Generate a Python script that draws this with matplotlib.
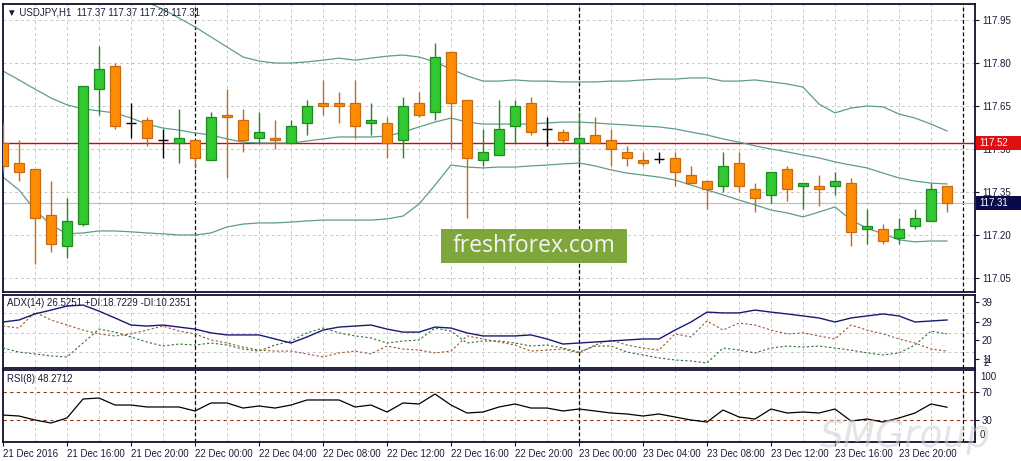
import matplotlib
matplotlib.use('Agg')
import matplotlib.pyplot as plt
from matplotlib.patches import Rectangle
import matplotlib.transforms as mtransforms

plt.rcParams['font.family'] = ['Liberation Sans', 'DejaVu Sans']

# ---------------- data ----------------
opens = [117.52, 117.45, 117.43, 117.27, 117.16, 117.24, 117.71, 117.79, 117.59, 117.60,
         117.53, 117.52, 117.53, 117.46, 117.62, 117.60, 117.54, 117.54, 117.52, 117.59,
         117.66, 117.66, 117.66, 117.59, 117.59, 117.53, 117.66, 117.63, 117.84, 117.67,
         117.46, 117.48, 117.58, 117.66, 117.57, 117.56, 117.52, 117.55, 117.53, 117.49,
         117.46, 117.465, 117.47, 117.41, 117.39, 117.37, 117.45, 117.36, 117.34, 117.43,
         117.37, 117.37, 117.37, 117.38, 117.22, 117.22, 117.19, 117.23, 117.25, 117.37]
highs = [117.59, 117.53, 117.43, 117.39, 117.33, 117.72, 117.86, 117.80, 117.66, 117.61,
         117.57, 117.64, 117.53, 117.63, 117.71, 117.64, 117.63, 117.60, 117.60, 117.67,
         117.74, 117.70, 117.74, 117.66, 117.61, 117.68, 117.70, 117.87, 117.84, 117.67,
         117.57, 117.67, 117.67, 117.68, 117.61, 117.57, 117.63, 117.61, 117.57, 117.51,
         117.49, 117.49, 117.49, 117.44, 117.39, 117.49, 117.49, 117.38, 117.42, 117.44,
         117.38, 117.41, 117.42, 117.40, 117.29, 117.24, 117.26, 117.29, 117.38, 117.37]
lows = [117.42, 117.39, 117.10, 117.14, 117.12, 117.23, 117.62, 117.57, 117.54, 117.51,
        117.47, 117.45, 117.44, 117.46, 117.40, 117.49, 117.52, 117.50, 117.52, 117.55,
        117.62, 117.59, 117.54, 117.55, 117.47, 117.47, 117.61, 117.60, 117.50, 117.26,
        117.44, 117.48, 117.52, 117.55, 117.51, 117.52, 117.45, 117.52, 117.44, 117.44,
        117.44, 117.45, 117.37, 117.38, 117.29, 117.35, 117.35, 117.28, 117.31, 117.32,
        117.29, 117.30, 117.34, 117.16, 117.17, 117.17, 117.17, 117.22, 117.25, 117.28]
closes = [117.44, 117.42, 117.26, 117.17, 117.25, 117.72, 117.78, 117.58, 117.59, 117.54,
          117.53, 117.54, 117.47, 117.61, 117.61, 117.53, 117.56, 117.53, 117.58, 117.65,
          117.65, 117.65, 117.58, 117.60, 117.52, 117.65, 117.62, 117.82, 117.66, 117.47,
          117.49, 117.57, 117.65, 117.56, 117.57, 117.53, 117.54, 117.52, 117.50, 117.47,
          117.45, 117.465, 117.42, 117.38, 117.36, 117.44, 117.37, 117.33, 117.42, 117.36,
          117.38, 117.36, 117.39, 117.21, 117.23, 117.18, 117.22, 117.26, 117.36, 117.31]

bb_upper = [118.16, 118.15, 118.14, 118.13, 118.12, 118.10, 118.08, 118.06, 118.035, 118.012,
            117.988, 117.957, 117.926, 117.891, 117.856, 117.821, 117.807, 117.800, 117.800, 117.804,
            117.810, 117.817, 117.810, 117.817, 117.824, 117.828, 117.821, 117.804, 117.779, 117.755,
            117.737, 117.737, 117.741, 117.737, 117.737, 117.734, 117.734, 117.734, 117.737, 117.737,
            117.741, 117.744, 117.744, 117.748, 117.748, 117.737, 117.737, 117.741, 117.734, 117.727,
            117.716, 117.657, 117.626, 117.643, 117.650, 117.647, 117.622, 117.608, 117.587, 117.563]
bb_middle = [117.772, 117.741, 117.709, 117.678, 117.654, 117.640, 117.633, 117.626, 117.608, 117.587,
             117.573, 117.566, 117.556, 117.549, 117.535, 117.524, 117.521, 117.521, 117.521, 117.528,
             117.535, 117.542, 117.542, 117.542, 117.545, 117.559, 117.577, 117.594, 117.608, 117.594,
             117.587, 117.587, 117.587, 117.587, 117.591, 117.594, 117.594, 117.591, 117.587, 117.584,
             117.580, 117.577, 117.570, 117.559, 117.549, 117.535, 117.524, 117.511, 117.500, 117.490,
             117.479, 117.469, 117.455, 117.444, 117.434, 117.416, 117.399, 117.388, 117.381, 117.378]
bb_lower = [117.402, 117.357, 117.287, 117.235, 117.204, 117.207, 117.214, 117.214, 117.211, 117.207,
            117.204, 117.200, 117.200, 117.207, 117.228, 117.238, 117.242, 117.242, 117.245, 117.249,
            117.252, 117.252, 117.252, 117.252, 117.256, 117.266, 117.308, 117.374, 117.444, 117.437,
            117.434, 117.437, 117.437, 117.441, 117.444, 117.448, 117.451, 117.441, 117.427, 117.416,
            117.409, 117.402, 117.392, 117.374, 117.357, 117.340, 117.322, 117.305, 117.287, 117.277,
            117.263, 117.280, 117.298, 117.252, 117.224, 117.204, 117.183, 117.176, 117.179, 117.179]

adx_main = [29.1, 30.1, 33.1, 35.0, 37.0, 37.5, 34.5, 31.1, 27.6, 27.1,
            27.6, 26.6, 25.6, 23.7, 22.7, 22.7, 22.7, 20.7, 18.7, 21.7,
            25.1, 26.6, 27.1, 27.6, 25.6, 24.1, 24.1, 26.6, 26.1, 23.7,
            22.2, 22.2, 22.2, 22.7, 20.7, 18.2, 18.7, 19.2, 19.7, 20.2,
            20.7, 20.7, 25.1, 29.1, 34.0, 33.6, 33.6, 35.0, 34.0, 33.1,
            32.1, 31.1, 29.1, 31.1, 32.1, 33.1, 32.1, 29.1, 29.6, 30.1]
adx_plus_di = [16.2, 14.2, 13.3, 12.3, 11.8, 18.7, 25.6, 24.1, 21.7, 19.2,
               17.2, 18.2, 17.7, 18.7, 17.7, 15.7, 14.7, 17.7, 19.7, 23.7,
               26.1, 23.7, 22.2, 21.2, 18.7, 19.7, 20.2, 26.1, 24.6, 18.7,
               19.7, 19.7, 18.7, 17.2, 17.7, 16.2, 14.2, 17.2, 17.2, 14.2,
               12.8, 11.3, 10.3, 9.8, 8.8, 16.2, 15.2, 13.8, 16.2, 17.2,
               16.7, 17.2, 16.2, 15.2, 13.8, 12.8, 13.8, 17.7, 24.6, 23.2]
adx_minus_di = [27.1, 26.1, 34.0, 30.1, 27.6, 25.1, 23.2, 22.2, 23.2, 25.1,
                27.1, 24.6, 23.2, 20.2, 18.7, 16.7, 15.2, 14.7, 14.7, 13.3,
                11.8, 13.8, 14.7, 13.3, 17.2, 15.7, 15.2, 13.8, 14.7, 22.2,
                20.7, 19.2, 17.7, 14.7, 15.2, 15.7, 13.8, 17.7, 20.2, 17.7,
                16.2, 15.2, 23.2, 21.7, 29.6, 25.1, 28.6, 27.6, 25.1, 23.2,
                23.7, 22.2, 20.7, 27.6, 25.1, 23.2, 20.7, 18.7, 15.7, 14.7]
rsi_values = [37.1, 35.7, 30.0, 25.7, 32.9, 60.0, 61.4, 51.4, 51.4, 48.6,
              48.6, 48.6, 42.9, 54.3, 54.3, 47.1, 50.0, 47.1, 51.4, 58.6,
              58.6, 58.6, 48.6, 51.4, 41.4, 54.3, 52.9, 67.1, 51.4, 40.0,
              41.4, 48.6, 52.9, 47.1, 47.1, 42.9, 45.7, 42.9, 40.0, 38.6,
              35.7, 38.6, 34.3, 30.0, 27.1, 44.3, 34.3, 31.4, 45.7, 40.0,
              41.4, 40.0, 45.7, 28.6, 31.4, 27.1, 32.9, 40.0, 52.9, 48.3]

time_labels = ['21 Dec 2016', '21 Dec 16:00', '21 Dec 20:00', '22 Dec 00:00', '22 Dec 04:00',
               '22 Dec 08:00', '22 Dec 12:00', '22 Dec 16:00', '22 Dec 20:00', '23 Dec 00:00',
               '23 Dec 04:00', '23 Dec 08:00', '23 Dec 12:00', '23 Dec 16:00', '23 Dec 20:00']
label_bars = [0, 4, 8, 12, 16, 20, 24, 28, 32, 36, 40, 44, 48, 52, 56]
day_separators = [12, 36, 60]
price_ticks = [117.95, 117.80, 117.65, 117.50, 117.35, 117.20, 117.05]
adx_ticks = [39, 29, 20, 11]
rsi_levels = [70, 30]
red_level = 117.52
bid_price = 117.31

# ---------------- styling ----------------
W, H = 1021, 461
fig = plt.figure(figsize=(W / 100, H / 100), dpi=100)
fig.patch.set_facecolor('white')

def axrect(top, bottom, left=3, right=975):
    return [left / W, 1 - bottom / H, (right - left) / W, (bottom - top) / H]

ax = fig.add_axes(axrect(4, 292))
ax_adx = fig.add_axes(axrect(295, 368))
ax_rsi = fig.add_axes(axrect(370, 442))

TXT = '#1c1c3a'
SPINE = '#101030'
GRID = '#c8c8c8'
n = len(closes)
xs = list(range(n))

for a in (ax, ax_adx, ax_rsi):
    a.set_xlim(0, 60.75)
    for s in a.spines.values():
        s.set_color(SPINE)
        s.set_linewidth(1.3)
    a.set_facecolor('white')
    for g in range(0, 61, 2):
        a.axvline(g, color=GRID, lw=0.7, ls=(0, (3, 3)), zorder=0)
    for d in day_separators:
        a.axvline(d, color='black', lw=0.9, ls=(0, (3, 2)), zorder=1)
    a.yaxis.tick_right()
    a.tick_params(axis='y', length=3, width=0.8, color=SPINE, labelsize=7,
                  labelcolor=TXT, pad=2, direction='out')
    a.tick_params(axis='x', length=0)
    a.set_xticks([])

# ---------------- main price panel ----------------
ax.set_ylim(117.001, 118.006)
ax.set_yticks(price_ticks)
ax.set_yticklabels([f'{p:.2f}' for p in price_ticks])
for p in price_ticks:
    ax.axhline(p, color=GRID, lw=0.7, ls=(0, (3, 3)), zorder=0)

ax.axhline(bid_price, color='#c0c0c0', lw=0.9, zorder=1)
ax.axhline(red_level, color='#e00000', lw=1.0, zorder=2)

band_col = '#5e9c8c'
ax.plot(xs, bb_upper, color=band_col, lw=0.9, zorder=2)
ax.plot(xs, bb_middle, color=band_col, lw=0.9, zorder=2)
ax.plot(xs, bb_lower, color=band_col, lw=0.9, zorder=2)

BW = 0.62
for i in range(n):
    o, h, l, c = opens[i], highs[i], lows[i], closes[i]
    if abs(c - o) < 1e-9:
        ax.vlines(i, l, h, color='black', lw=1.0, zorder=3)
        ax.hlines(o, i - BW / 2, i + BW / 2, color='black', lw=1.0, zorder=3)
        continue
    if c > o:
        fill, edge = '#32c832', '#1f8a1f'
    else:
        fill, edge = '#ff8c00', '#c86a14'
    ax.vlines(i, l, h, color=edge, lw=1.0, zorder=3)
    ax.bar(i, abs(c - o), bottom=min(o, c), width=BW, color=fill,
           edgecolor=edge, linewidth=0.9, zorder=4)

# price boxes on the right axis
blend = mtransforms.blended_transform_factory(fig.transFigure, ax.transData)
box_h = 14 / 288 * (118.006 - 117.001)
for val, col in ((red_level, '#e01010'), (bid_price, '#0a0a4a')):
    ax.add_patch(Rectangle((976 / W, val - box_h / 2), 45 / W, box_h, transform=blend,
                           facecolor=col, edgecolor='none', clip_on=False, zorder=10))
    ax.text(979 / W, val, f'{val:.2f}', transform=blend, color='white', fontsize=7,
            ha='left', va='center', zorder=11, clip_on=False)

ax.text(0.004, 0.972, '\u25bc USDJPY,H1  117.37 117.37 117.28 117.31', transform=ax.transAxes,
        fontsize=7, color=TXT, ha='left', va='center', zorder=12)

# freshforex.com logo
fig.add_artist(Rectangle((441 / W, 1 - 263 / H), 186 / W, 34 / H, transform=fig.transFigure,
                         facecolor='#7fa63a', edgecolor='none', zorder=5))
fig.text(534 / W, 1 - 246 / H, 'freshforex.com', color='#f4f4f4', fontsize=16.5,
         family=['Open Sans', 'DejaVu Sans'], ha='center', va='center', zorder=6)

# ---------------- ADX panel ----------------
ax_adx.set_ylim(6.33, 42.47)
ax_adx.set_yticks(adx_ticks)
ax_adx.set_yticklabels([str(t) for t in adx_ticks])
for g in (33.6, 23.7, 14.2):
    ax_adx.axhline(g, color=GRID, lw=0.7, ls=(0, (3, 3)), zorder=0)
ax_adx.plot(xs, adx_main, color='#191970', lw=1.0, zorder=4)
ax_adx.plot(xs, adx_plus_di, color='#2f6f2f', lw=0.8, ls=(0, (2, 2)), zorder=3)
ax_adx.plot(xs, adx_minus_di, color='#a0522d', lw=0.8, ls=(0, (2, 2)), zorder=3)
ax_adx.text(1.0085, 0.07, '2', transform=ax_adx.transAxes, fontsize=7, color=TXT,
            ha='left', va='center', clip_on=False)
ax_adx.text(0.004, 0.89, 'ADX(14) 26.5251 +DI:18.7229 -DI:10.2351', transform=ax_adx.transAxes,
            fontsize=7, color=TXT, ha='left', va='center', zorder=12)

# ---------------- RSI panel ----------------
ax_rsi.set_ylim(-1.4, 101.4)
ax_rsi.set_yticks(rsi_levels)
ax_rsi.set_yticklabels([str(t) for t in rsi_levels])
for lv in rsi_levels:
    ax_rsi.axhline(lv, color='#8b3a1a', lw=0.8, ls=(0, (3, 3)), zorder=1)
ax_rsi.plot(xs, rsi_values, color='black', lw=0.9, zorder=4)
ax_rsi.text(1.005, 0.9, '100', transform=ax_rsi.transAxes, fontsize=7, color=TXT,
            ha='left', va='center', clip_on=False)
ax_rsi.text(1.005, 0.1, '0', transform=ax_rsi.transAxes, fontsize=7, color=TXT,
            ha='left', va='center', clip_on=False)
ax_rsi.text(0.004, 0.875, 'RSI(8) 48.2712', transform=ax_rsi.transAxes,
            fontsize=7, color=TXT, ha='left', va='center', zorder=12)

ax_rsi.set_xticks(label_bars)
ax_rsi.set_xticklabels(time_labels, ha='left')
ax_rsi.tick_params(axis='x', length=3, width=0.8, color=SPINE, labelsize=7,
                   labelcolor=TXT, pad=2)

# watermark
fig.text(905 / W, 1 - 437 / H, 'SMGroup', fontsize=27, style='italic', color='#cfcfcf',
         alpha=0.55, ha='center', va='center', zorder=20,
         family=['DejaVu Sans'])

fig.savefig('out.png', dpi=100, facecolor='white')
